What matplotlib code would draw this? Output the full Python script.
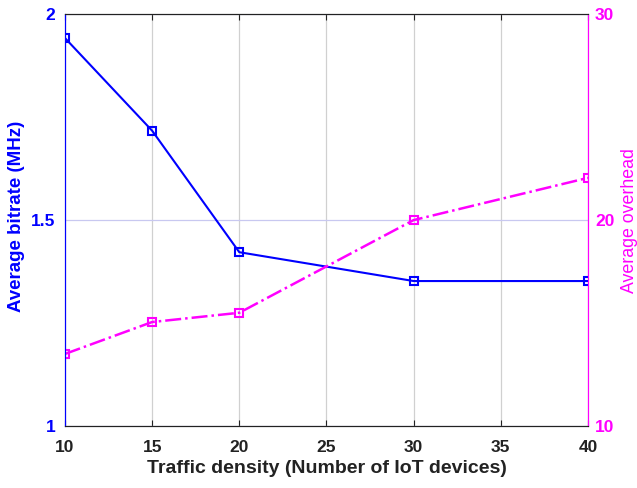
import matplotlib
matplotlib.use("Agg")
import matplotlib.pyplot as plt

# Datos de la gráfica
densidad = [10, 15, 20, 30, 40]
bitrate = [1.942, 1.717, 1.422, 1.352, 1.352]
overhead = [13.5, 15.05, 15.5, 20.0, 22.05]

AZUL = "#0000ff"
MAGENTA = "#ff00ff"

plt.rcParams["font.family"] = ["Liberation Sans", "DejaVu Sans"]

fig = plt.figure(figsize=(6.37, 4.88), dpi=100)
ax = fig.add_axes([0.102, 0.127, 0.821, 0.844])
ax2 = ax.twinx()

# Curva de bitrate (eje izquierdo)
ax.plot(densidad, bitrate, color=AZUL, linewidth=1.5, marker="s",
        markersize=6, markerfacecolor="none", markeredgewidth=1.5, zorder=3)
ax.set_xlim(10, 40)
ax.set_ylim(1, 2)
ax.set_xticks([10, 15, 20, 25, 30, 35, 40])
ax.set_yticks([1, 1.5, 2])
ax.set_yticklabels(["1", "1.5", "2"])
ax.xaxis.grid(True, color="#d0d0d0", linewidth=0.9)
ax.yaxis.grid(True, color="#c8c8f0", linewidth=0.9)
ax.set_axisbelow(True)

# Curva de overhead (eje derecho)
ax2.plot(densidad, overhead, color=MAGENTA, linewidth=1.8, linestyle="-.",
         marker="s", markersize=6, markerfacecolor="none", markeredgewidth=1.5)
ax2.set_ylim(10, 30)
ax2.set_yticks([10, 20, 30])

for a in (ax, ax2):
    a.spines["top"].set_color("#222222")
    a.spines["bottom"].set_color("#222222")
    a.spines["left"].set_color(AZUL)
    a.spines["right"].set_color(MAGENTA)

ax.tick_params(axis="x", direction="in", length=4, top=True, colors="#222222",
               labelsize=12.5, pad=10)
ax.tick_params(axis="y", direction="in", length=0, colors=AZUL, labelsize=12.5,
               pad=7)
ax2.tick_params(axis="y", direction="in", length=0, colors=MAGENTA,
                labelsize=12.5, pad=5)

for lbl in ax.get_xticklabels() + ax.get_yticklabels() + ax2.get_yticklabels():
    lbl.set_fontweight("bold")

ax.set_xlabel("Traffic density (Number of IoT devices)", fontsize=14,
              fontweight="bold", color="#222222")
ax.xaxis.set_label_coords(0.5, -0.083)
ax.set_ylabel("Average bitrate (MHz)", fontsize=13.5, fontweight="bold",
              color=AZUL)
ax.yaxis.set_label_coords(-0.076, 0.51)
ax2.set_ylabel("Average overhead", fontsize=12.8, color=MAGENTA,
               rotation=90, va="center")
ax2.yaxis.set_label_coords(1.08, 0.5)

fig.savefig("out.png", dpi=100)
